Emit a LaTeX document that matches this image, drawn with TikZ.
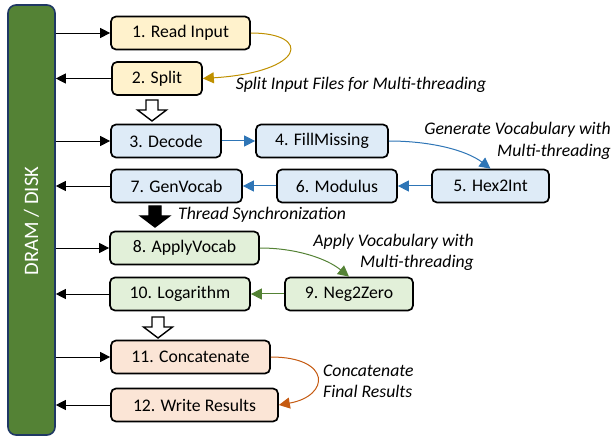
\documentclass[tikz,border=0pt]{standalone}
\usepackage{fontspec}
\setmainfont{Carlito}
\usetikzlibrary{arrows.meta,calc}

\definecolor{barGreen}{HTML}{548235}
\definecolor{barEdge}{HTML}{1F3864}
\definecolor{fillYel}{HTML}{FFF2CC}
\definecolor{fillBlue}{HTML}{DEEBF7}
\definecolor{fillGreen}{HTML}{E2F0D9}
\definecolor{fillOrange}{HTML}{FBE5D6}
\definecolor{lineGold}{HTML}{BF9000}
\definecolor{lineBlue}{HTML}{2E75B6}
\definecolor{lineGreen}{HTML}{548235}
\definecolor{lineOrange}{HTML}{C55A11}

\tikzset{
  stage/.style={draw, line width=1.7pt, rounded corners=5pt, minimum height=33pt,
    inner sep=0pt, font=\fontsize{17.7}{21}\selectfont},
  note/.style={inner sep=0pt, font=\fontsize{17.7}{21.5}\selectfont\itshape},
  busarrow/.style={line width=0.9pt, -{Triangle[length=10pt,width=10pt]}},
  flowarrow/.style={line width=1pt, -{Triangle[length=11pt,width=11pt]}},
  pics/blockdown/.style={code={
    \draw[line width=1.4pt, fill=#1, line join=miter]
      (-6,0) -- (6,0) -- (6,10) -- (14.5,10) -- (0,21) -- (-14.5,10) -- (-6,10) -- cycle;
  }}
}

\begin{document}
\begin{tikzpicture}[x=1pt,y=-1pt]
\useasboundingbox (0,0) rectangle (613,438);

% memory bar
\node[draw=barEdge, line width=1.6pt, fill=barGreen, rounded corners=8pt,
      minimum width=47pt, minimum height=430pt, inner sep=0pt] (bar) at (31.5,220) {};
\node[rotate=90, text=white, inner sep=0pt, font=\fontsize{20.5}{24}\selectfont]
      (barlabel) at (31.5,221) {DRAM / DISK};

% pipeline stages
\node[stage, fill=fillYel, minimum width=139pt] (r1) at (180.5,33) {1. Read Input};
\node[stage, fill=fillYel, minimum width=90pt] (r2) at (157,78.5) {2. Split};
\node[stage, fill=fillBlue, minimum width=110pt] (r3) at (166,141) {3. Decode};
\node[stage, fill=fillBlue, minimum width=132pt] (r4) at (322,141) {4. FillMissing};
\node[stage, fill=fillBlue, minimum width=117pt] (r5) at (490.5,186) {5. Hex2Int};
\node[stage, fill=fillBlue, minimum width=120pt] (r6) at (337,186) {6. Modulus};
\node[stage, fill=fillBlue, minimum width=131pt] (r7) at (176.5,186) {7. GenVocab};
\node[stage, fill=fillGreen, minimum width=149pt] (r8) at (184.5,248) {8. ApplyVocab};
\node[stage, fill=fillGreen, minimum width=128pt] (r9) at (349,294) {9. Neg2Zero};
\node[stage, fill=fillGreen, minimum width=140pt] (r10) at (180,294) {10. Logarithm};
\node[stage, fill=fillOrange, minimum width=159pt] (r11) at (190.5,357) {11. Concatenate};
\node[stage, fill=fillOrange, minimum width=167pt] (r12) at (194.5,405) {12. Write Results};

% transfers to and from memory
\draw[busarrow] (bar.east |- r1.west) -- (r1.west);
\draw[busarrow] (r2.west) -- (bar.east |- r2.west);
\draw[busarrow] (bar.east |- r3.west) -- (r3.west);
\draw[busarrow] (r7.west) -- (bar.east |- r7.west);
\draw[busarrow] (bar.east |- r8.west) -- (r8.west);
\draw[busarrow] (r10.west) -- (bar.east |- r10.west);
\draw[busarrow] (bar.east |- r11.west) -- (r11.west);
\draw[busarrow] (r12.west) -- (bar.east |- r12.west);

% phase separators
\pic at (152,100) {blockdown=white};
\pic at (155,206) {blockdown=black};
\pic at (158,317) {blockdown=white};

% stage-to-stage flow
\draw[flowarrow, lineGold] (r1.east) .. controls (312,33) and (306,72) .. (r2.east);
\draw[flowarrow, lineBlue] (r3.east) -- (r4.west);
\draw[flowarrow, lineBlue] (r4.east) .. controls (430,141) and (466,150) .. (r5.north);
\draw[flowarrow, lineBlue] (r5.west) -- (r6.east);
\draw[flowarrow, lineBlue] (r6.west) -- (r7.east);
\draw[flowarrow, lineGreen] (r8.east) .. controls (295,248) and (326,258) .. (r9.north);
\draw[flowarrow, lineGreen] (r9.west) -- (r10.east);
\draw[flowarrow, lineOrange] (r11.east) .. controls (332,357) and (330,396) .. (r12.east);

% annotations
\node[note] (n1) at (361,85) {Split Input Files for Multi-threading};
\node[note, anchor=east, align=right] (n2) at (611,141) {Generate Vocabulary with\\Multi-threading};
\node[note, anchor=west] (n3) at (178,215) {Thread Synchronization};
\node[note, anchor=east, align=right] (n4) at (474,252.5) {Apply Vocabulary with\\Multi-threading};
\node[note, anchor=west, align=left] (n5) at (323,381.5) {Concatenate\\Final Results};
\end{tikzpicture}
\end{document}
